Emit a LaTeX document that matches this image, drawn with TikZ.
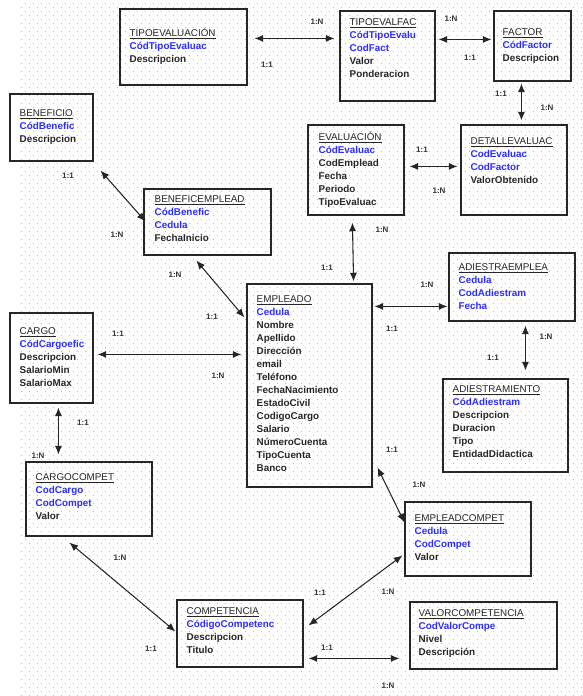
\documentclass[tikz,border=0pt]{standalone}
\usepackage{fontspec}
\setmainfont{Liberation Sans}
\usetikzlibrary{arrows.meta,fit,calc}
\definecolor{clave}{RGB}{45,45,250}
\definecolor{punto}{RGB}{185,185,185}
\newcommand{\titulo}[1]{\rule{0pt}{7.5pt}\underline{\mdseries #1}}
\newcommand{\clave}[1]{\textcolor{clave}{#1}}

\begin{document}
\begin{tikzpicture}
    [x=0.75pt, y=-0.75pt,
    >={Latex[length=6.5pt,width=5.4pt]},
    entidad/.style={draw=black!85, line width=0.85pt, inner sep=0pt},
    campos/.style={anchor=north west, align=left, inner sep=0pt,
    font=\fontsize{7.4}{9.75}\selectfont\bfseries, text=black!85},
    relacion/.style={<->, draw=black!85, line width=0.8pt},
    card/.style={font=\fontsize{6}{7}\selectfont\bfseries, inner sep=0pt, text=black!80},
    punteo/.style={draw=punto, line width=0.75pt, dash pattern=on 0.75pt off 5.25pt}]
    \useasboundingbox (0,0) rectangle (582,696);
    % fondo punteado
    \foreach \y in {3.3,11.3,...,696} {
        \draw[punteo] (24.8,\y) -- (582,\y);
    }
    \foreach \y in {7.3,15.3,...,696} {
        \draw[punteo] (20.8,\y) -- (582,\y);
    }
    % entidades
    \node[entidad, fit={(120,9) (247,85)}] (tipoeval) {};
    \node[campos] (tipoevalTxt) at ([shift={(10,17.5)}]tipoeval.north west)
        {\titulo{TIPOEVALUACIÓN}\\ \clave{CódTipoEvaluac}\\ Descripcion};
    \node[entidad, fit={(340,11) (435,101)}] (tipoevalfac) {};
    \node[campos] (tipoevalfacTxt) at ([shift={(10,4.5)}]tipoevalfac.north west)
        {\titulo{TIPOEVALFAC}\\ \clave{CódTipoEvalu}\\ \clave{CodFact}\\ Valor\\ Ponderacion};
    \node[entidad, fit={(494,11) (571,81)}] (factor) {};
    \node[campos] (factorTxt) at ([shift={(9,14.5)}]factor.north west)
        {\titulo{FACTOR}\\ \clave{CódFactor}\\ Descripcion};
    \node[entidad, fit={(10,94) (93,161)}] (benef) {};
    \node[campos] (benefTxt) at ([shift={(10,12.5)}]benef.north west)
        {\titulo{BENEFICIO}\\ \clave{CódBenefic}\\ Descripcion};
    \node[entidad, fit={(144,189) (271,255)}] (benefemp) {};
    \node[campos] (benefempTxt) at ([shift={(11,3.5)}]benefemp.north west)
        {\titulo{BENEFICEMPLEAD}\\ \clave{CódBenefic}\\ \clave{Cedula}\\ FechaInicio};
    \node[entidad, fit={(308,125) (404,215)}] (evaluacion) {};
    \node[campos] (evaluacionTxt) at ([shift={(11,5.5)}]evaluacion.north west)
        {\titulo{EVALUACIÓN}\\ \clave{CódEvaluac}\\ CodEmplead\\ Fecha\\ Periodo\\ TipoEvaluac};
    \node[entidad, fit={(461,125) (567,215)}] (detalle) {};
    \node[campos] (detalleTxt) at ([shift={(10,9.5)}]detalle.north west)
        {\titulo{DETALLEVALUAC}\\ \clave{CodEvaluac}\\ \clave{CodFactor}\\ ValorObtenido};
    \node[entidad, fit={(247,284) (372,487)}] (empleado) {};
    \node[campos] (empleadoTxt) at ([shift={(10,8.5)}]empleado.north west)
        {\titulo{EMPLEADO}\\ \clave{Cedula}\\ Nombre\\ Apellido\\ Dirección\\ email\\ Teléfono\\
        FechaNacimiento\\ EstadoCivil\\ CodigoCargo\\ Salario\\ NúmeroCuenta\\ TipoCuenta\\ Banco};
    \node[entidad, fit={(449,253) (575,321)}] (adiestraemp) {};
    \node[campos] (adiestraempTxt) at ([shift={(10,7.5)}]adiestraemp.north west)
        {\titulo{ADIESTRAEMPLEA}\\ \clave{Cedula}\\ \clave{CodAdiestram}\\ \clave{Fecha}};
    \node[entidad, fit={(443,379) (568,472)}] (adiestram) {};
    \node[campos] (adiestramTxt) at ([shift={(10,3.5)}]adiestram.north west)
        {\titulo{ADIESTRAMIENTO}\\ \clave{CódAdiestram}\\ Descripcion\\ Duracion\\ Tipo\\ EntidadDidactica};
    \node[entidad, fit={(10,313) (93,403)}] (cargo) {};
    \node[campos] (cargoTxt) at ([shift={(10,11.5)}]cargo.north west)
        {\titulo{CARGO}\\ \clave{CódCargoefic}\\ Descripcion\\ SalarioMin\\ SalarioMax};
    \node[entidad, fit={(26,462) (152,536)}] (cargocomp) {};
    \node[campos] (cargocompTxt) at ([shift={(10,8.5)}]cargocomp.north west)
        {\titulo{CARGOCOMPET}\\ \clave{CodCargo}\\ \clave{CodCompet}\\ Valor};
    \node[entidad, fit={(405,502) (531,576)}] (empcomp) {};
    \node[campos] (empcompTxt) at ([shift={(10,9.5)}]empcomp.north west)
        {\titulo{EMPLEADCOMPET}\\ \clave{Cedula}\\ \clave{CodCompet}\\ Valor};
    \node[entidad, fit={(177,600) (303,667)}] (competencia) {};
    \node[campos] (competenciaTxt) at ([shift={(10,4.5)}]competencia.north west)
        {\titulo{COMPETENCIA}\\ \clave{CódigoCompetenc}\\ Descripcion\\ Titulo};
    \node[entidad, fit={(410,602) (557,669)}] (valorcomp) {};
    \node[campos] (valorcompTxt) at ([shift={(9,4.5)}]valorcomp.north west)
        {\titulo{VALORCOMPETENCIA}\\ \clave{CodValorCompe}\\ Nivel\\ Descripción};
    % relaciones
    \draw[relacion] ([shift={(7,30)}]tipoeval.north east) -- ([shift={(-5,28)}]tipoevalfac.north west);
    \draw[relacion] ([shift={(3,29)}]tipoevalfac.north east) -- ([shift={(-2,29)}]factor.north west);
    \draw[relacion] ([shift={(28,2)}]factor.south west) -- ([shift={(61,-4)}]detalle.north west);
    \draw[relacion] ([shift={(5,42)}]evaluacion.north east) -- ([shift={(-3,42)}]detalle.north west);
    \draw[relacion] ([shift={(45,7)}]evaluacion.south west) -- ([shift={(-19,-2)}]empleado.north east);
    \draw[relacion] ([shift={(7,9)}]benef.south east) -- ([shift={(2,33)}]benefemp.north west);
    \draw[relacion] ([shift={(53,5)}]benefemp.south west) -- ([shift={(-2,34)}]empleado.north west);
    \draw[relacion] ([shift={(4,42)}]cargo.north east) -- ([shift={(-5,71)}]empleado.north west);
    \draw[relacion] ([shift={(2,23)}]empleado.north east) -- ([shift={(-1,54)}]adiestraemp.north west);
    \draw[relacion] ([shift={(77,4)}]adiestraemp.south west) -- ([shift={(83,-8)}]adiestram.north west);
    \draw[relacion] ([shift={(49,4)}]cargo.south west) -- ([shift={(33,-7)}]cargocomp.north west);
    \draw[relacion] ([shift={(44,6)}]cargocomp.south west) -- ([shift={(-1,32)}]competencia.north west);
    \draw[relacion] ([shift={(5,-20)}]empleado.south east) -- ([shift={(0,21)}]empcomp.north west);
    \draw[relacion] ([shift={(-2,54)}]empcomp.north west) -- ([shift={(5,26)}]competencia.north east);
    \draw[relacion] ([shift={(5,59)}]competencia.north east) -- ([shift={(-10,57)}]valorcomp.north west);
    % cardinalidades
    \node[card] (c1a) at (267,65) {1:1};
    \node[card] (c1b) at (317,22) {1:N};
    \node[card] (c2a) at (451,19) {1:N};
    \node[card] (c2b) at (470,58) {1:1};
    \node[card] (c3a) at (501,94) {1:1};
    \node[card] (c3b) at (547,108) {1:N};
    \node[card] (c4a) at (422,150) {1:1};
    \node[card] (c4b) at (439,191) {1:N};
    \node[card] (c5a) at (382,230) {1:N};
    \node[card] (c5b) at (327,268) {1:1};
    \node[card] (c6a) at (68,176) {1:1};
    \node[card] (c6b) at (117,235) {1:N};
    \node[card] (c7a) at (175,275) {1:N};
    \node[card] (c7b) at (212,317) {1:1};
    \node[card] (c8a) at (118,334) {1:1};
    \node[card] (c8b) at (218,376) {1:N};
    \node[card] (c9a) at (427,285) {1:N};
    \node[card] (c9b) at (392,329) {1:1};
    \node[card] (c10a) at (546,337) {1:N};
    \node[card] (c10b) at (493,358) {1:1};
    \node[card] (c11a) at (83,423) {1:1};
    \node[card] (c11b) at (38,456) {1:N};
    \node[card] (c12a) at (120,558) {1:N};
    \node[card] (c12b) at (151,649) {1:1};
    \node[card] (c13a) at (392,450) {1:1};
    \node[card] (c13b) at (419,485) {1:N};
    \node[card] (c14a) at (320,593) {1:1};
    \node[card] (c14b) at (388,592) {1:N};
    \node[card] (c15a) at (327,648) {1:1};
    \node[card] (c15b) at (388,686) {1:N};
\end{tikzpicture}
\end{document}
